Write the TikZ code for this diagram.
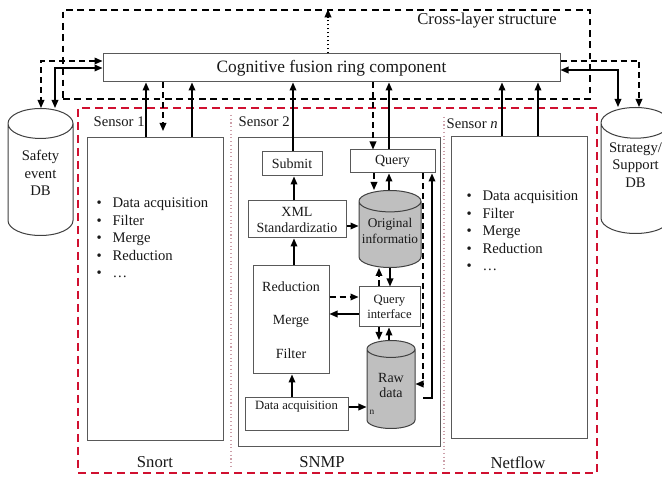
\documentclass[tikz,border=0pt]{standalone}
\usepackage{fontspec}
\setmainfont{Liberation Serif}
\usetikzlibrary{shapes.geometric,arrows.meta,fit}
\definecolor{rojomarco}{RGB}{208,16,48}
\definecolor{separador}{RGB}{205,160,170}
\begin{document}
\begin{tikzpicture}[
    x=0.75pt, y=-0.75pt,
    >={Triangle[length=6pt,width=5pt]},
    every node/.style={font=\fontsize{11}{13}\selectfont, text=black!90},
    caja/.style={draw=black!65, line width=0.75pt, fill=white, inner sep=0pt},
    bd/.style={cylinder, shape border rotate=90, draw=black!75, line width=0.75pt,
        fill=white, inner sep=0pt, align=center, anchor=north, aspect=0.8},
    flujo/.style={->, line width=1pt},
    flujod/.style={->, line width=1pt, dash pattern=on 4.5pt off 3pt}]
    \path[use as bounding box, fill=white] (0,0) rectangle (662,481);

    % Estructura entre capas y marco de sensores.
    \node[draw, line width=1.1pt, dash pattern=on 5pt off 3.5pt, inner sep=0pt,
        fit={(63,10) (590,99)}] (capa) {};
    \node[font=\fontsize{12.5}{14}\selectfont] (capatxt) at (487,21) {Cross-layer structure};
    \node[draw=rojomarco, line width=1.4pt, dash pattern=on 6pt off 3.75pt, inner sep=0pt,
        fit={(78,108) (597,473)}] (sens) {};
    \draw[separador, dotted, line width=0.8pt] (231,115) -- (231,469);
    \draw[separador, dotted, line width=0.8pt] (444,117) -- (444,470);

    \node[caja, minimum width=342.75pt, minimum height=21pt, font=\fontsize{13}{15}\selectfont]
        (fus) at (331.5,68) {Cognitive fusion ring component};

    % Bases de datos laterales.
    \node[bd, minimum width=48.75pt, minimum height=95.25pt] (db1) at (40.5,108)
        {\phantom{Safety}\\\phantom{event}\\\phantom{DB}};
    \node[align=center] (db1t) at (40.5,173) {Safety\\event\\DB};
    \node[bd, minimum width=51.75pt, minimum height=94.5pt, aspect=0.58] (db2) at (635.5,107)
        {\phantom{Strategy/}\\\phantom{Support}\\\phantom{DB}};
    \node[align=center] (db2t) at (635.5,165) {Strategy/\\Support\\DB};

    % Sensores.
    \node[anchor=west] (s1) at (89,122) {Sensor 1};
    \node[anchor=west] (s2) at (234,122) {Sensor 2};
    \node[anchor=west] (sn) at (442,124) {Sensor \textit{n}};
    \node[caja, minimum width=102pt, minimum height=227.25pt] (snort) at (155,289.5) {};
    \node[caja, minimum width=151.5pt, minimum height=231.75pt] (snmp) at (339,292.5) {};
    \node[caja, minimum width=102pt, minimum height=226.5pt] (netflow) at (519,288) {};
    \node[font=\fontsize{12.5}{14}\selectfont] (snortl) at (155,462) {Snort};
    \node[font=\fontsize{12.5}{14}\selectfont] (snmpl) at (322,462) {SNMP};
    \node[font=\fontsize{12.5}{14}\selectfont] (netl) at (518,463) {Netflow};

    \node[anchor=west, align=left, font=\fontsize{11}{13.1}\selectfont] (lista1) at (92,238)
        {\textbullet\hspace{8pt}Data acquisition\\ \textbullet\hspace{8pt}Filter\\
         \textbullet\hspace{8pt}Merge\\ \textbullet\hspace{8pt}Reduction\\ \textbullet\hspace{8pt}…};
    \node[anchor=west, align=left, font=\fontsize{11}{13.1}\selectfont] (lista2) at (462,231)
        {\textbullet\hspace{8pt}Data acquisition\\ \textbullet\hspace{8pt}Filter\\
         \textbullet\hspace{8pt}Merge\\ \textbullet\hspace{8pt}Reduction\\ \textbullet\hspace{8pt}…};

    % Interior de SNMP.
    \node[caja, minimum width=45pt, minimum height=18pt, font=\fontsize{10.5}{12}\selectfont]
        (submit) at (292,164) {Submit};
    \node[caja, minimum width=63.75pt, minimum height=17.25pt, font=\fontsize{10.5}{12}\selectfont]
        (query) at (392.5,161.5) {Query};
    \node[caja, minimum width=73.5pt, minimum height=27.75pt, align=center,
        font=\fontsize{10.5}{12}\selectfont] (xml) at (297,219.5) {XML\\Standardizatio};
    \node[bd, fill=black!25, minimum width=46.5pt, minimum height=57.75pt, aspect=0.38,
        font=\fontsize{10}{12.5}\selectfont] (orig) at (390,190)
        {\phantom{Original}\\\phantom{informatio}};
    \node[align=center, font=\fontsize{10}{12.5}\selectfont] (origt) at (390,231)
        {Original\\informatio};
    \node[caja, minimum width=57pt, minimum height=81pt, align=center,
        font=\fontsize{10.5}{25}\selectfont] (rmf) at (291,320) {Reduction\\Merge\\Filter};
    \node[caja, minimum width=45.75pt, minimum height=30pt, align=center,
        font=\fontsize{9.5}{11.5}\selectfont] (qi) at (389.5,307) {Query\\interface};
    \node[bd, fill=black!25, minimum width=36pt, minimum height=66pt, aspect=0.66,
        font=\fontsize{10.5}{11.5}\selectfont] (raw) at (391,340) {\phantom{Raw}\\\phantom{data}};
    \node[align=center, font=\fontsize{10.5}{11.5}\selectfont] (rawt) at (391,385.5) {Raw\\data};
    \node[caja, minimum width=77.25pt, minimum height=24.75pt, align=center,
        font=\fontsize{9.5}{14}\selectfont] (acq) at (296.5,414.5) {Data acquisition\\~};
    \node[font=\fontsize{7}{8}\selectfont, inner sep=0pt] (nmark) at (372,412) {n};

    % Enlaces con el anillo de fusion.
    \draw[flujod,<->] (fus.west |- 0,61) -| (41,0 |- db1.north);
    \draw[flujo,<->] (fus.west |- 0,68) -| (55,0 |- db1.north);
    \draw[flujo,<->] (fus.east |- 0,70) -| (618,0 |- db2.north);
    \draw[flujod] (fus.east |- 0,61) -| (639,0 |- db2.north);
    \draw[->, dotted, line width=1pt] (328,0 |- fus.north) -- (328,0 |- capa.north);

    \coordinate (s1fin) at (163,131);
    \draw[flujo] (146,0 |- snort.north) -- (146,0 |- fus.south);
    \draw[flujod] (163,0 |- fus.south) -- (s1fin);
    \draw[flujo] (192,0 |- snort.north) -- (192,0 |- fus.south);
    \draw[flujo] (293,0 |- submit.north) -- (293,0 |- fus.south);
    \draw[flujod] (373,0 |- fus.south) -- (373,0 |- query.north);
    \draw[flujo] (389,0 |- query.north) -- (389,0 |- fus.south);
    \draw[flujo] (502,0 |- netflow.north) -- (502,0 |- fus.south);
    \draw[flujo] (538,0 |- netflow.north) -- (538,0 |- fus.south);

    % Flujos internos de SNMP.
    \draw[flujo] (294,0 |- xml.north) -- (294,0 |- submit.south);
    \draw[flujo] (xml.east |- 0,226) -- (orig.west |- 0,226);
    \draw[flujod] (374,0 |- query.south) -- (374,0 |- orig.north);
    \draw[flujo] (389,0 |- orig.north) -- (389,0 |- query.south);
    \draw[flujo] (294,0 |- rmf.north) -- (294,0 |- xml.south);
    \draw[flujod] (rmf.east |- 0,297) -- (qi.west |- 0,297);
    \draw[flujo] (qi.west |- 0,314) -- (rmf.east |- 0,314);
    \draw[flujod] (379,0 |- qi.north) -- (379,0 |- orig.south);
    \draw[flujo] (390,0 |- orig.south) -- (390,0 |- qi.north);
    \draw[flujod] (379,0 |- qi.south) -- (379,0 |- raw.north);
    \draw[flujo] (389,0 |- raw.north) -- (389,0 |- qi.south);
    \draw[flujo] (292,0 |- acq.north) -- (292,0 |- rmf.south);
    \draw[flujo] (acq.east |- 0,407) -- (raw.west |- 0,407);
    \coordinate (lazo) at (423,398);
    \draw[flujo] (lazo) -| (432,0 |- query.south);
    \draw[flujod] (423,0 |- query.south) |- (raw.east |- 0,384);
\end{tikzpicture}
\end{document}
